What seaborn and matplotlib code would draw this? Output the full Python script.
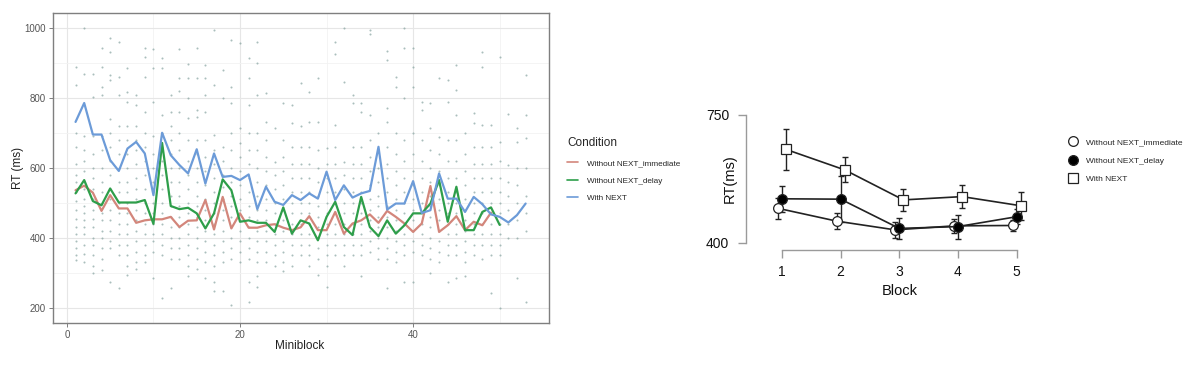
import matplotlib

matplotlib.use("Agg")
import matplotlib.pyplot as plt
import numpy as np
import pandas as pd
import seaborn as sns
from matplotlib.lines import Line2D

sns.set_theme(style="white")
plt.rcParams["font.family"] = ["Liberation Sans", "DejaVu Sans"]

# --- datos: panel izquierdo (medias por miniblock) ---------------------------
conditions = ["Without NEXT_immediate", "Without NEXT_delay", "With NEXT"]
rt_immediate = [536, 549, 529, 477, 522, 484, 484, 443, 450, 453, 453, 460, 431,
                449, 450, 508, 424, 517, 427, 470, 429, 429, 436, 439, 429, 422,
                430, 462, 422, 422, 474, 412, 441, 450, 467, 443, 477, 460, 441,
                417, 441, 548, 417, 436, 462, 422, 446, 436, 472]
rt_delay = [527, 565, 505, 493, 541, 501, 501, 501, 508, 440, 671, 491, 482,
            486, 470, 427, 470, 567, 536, 446, 450, 443, 443, 417, 487, 412,
            450, 441, 393, 460, 503, 431, 408, 517, 431, 405, 450, 412, 436,
            470, 470, 498, 565, 446, 546, 422, 422, 474, 487, 437]
rt_next = [731, 785, 695, 695, 622, 591, 655, 674, 641, 522, 700, 636, 608,
           584, 653, 555, 641, 574, 577, 565, 581, 482, 546, 503, 494, 522,
           508, 527, 512, 589, 508, 550, 515, 527, 534, 660, 481, 498, 498,
           562, 471, 479, 584, 512, 512, 474, 517, 496, 467, 460, 444, 465, 498]

# ensayos individuales (puntos) por miniblock, estimados a ojo
dot_rt = [
    [889, 836, 700, 660, 610, 580, 560, 530, 505, 480, 455, 430, 410, 390, 370, 350, 337],
    [1000, 867, 690, 650, 620, 590, 560, 540, 510, 490, 470, 450, 430, 410, 380, 355, 332],
    [867, 803, 690, 640, 600, 570, 540, 510, 480, 455, 430, 400, 380, 350, 320, 299],
    [943, 889, 832, 808, 690, 650, 600, 560, 530, 500, 470, 450, 420, 400, 370, 340, 308],
    [970, 932, 865, 851, 740, 700, 660, 620, 580, 540, 510, 480, 450, 420, 390, 370, 275],
    [960, 860, 808, 720, 680, 640, 600, 560, 530, 500, 470, 440, 410, 380, 350, 258],
    [884, 817, 789, 720, 680, 640, 600, 560, 530, 500, 470, 440, 410, 380, 350, 320, 294],
    [808, 779, 720, 680, 650, 610, 570, 540, 510, 480, 450, 420, 390, 360, 330, 310],
    [943, 917, 860, 760, 700, 660, 620, 580, 540, 500, 470, 440, 410, 380, 350, 330],
    [938, 884, 789, 690, 640, 600, 560, 530, 500, 470, 440, 410, 390, 360, 285],
    [914, 884, 751, 700, 660, 620, 580, 540, 500, 470, 440, 410, 380, 350, 228],
    [808, 760, 720, 680, 640, 600, 560, 520, 490, 460, 430, 400, 370, 340, 256],
    [938, 855, 820, 760, 700, 650, 600, 560, 520, 490, 460, 430, 400, 370, 340],
    [895, 855, 798, 741, 680, 620, 580, 540, 500, 470, 440, 410, 380, 350, 320, 290],
    [941, 857, 765, 746, 680, 640, 600, 560, 520, 490, 460, 430, 400, 370, 340, 310],
    [893, 855, 808, 760, 680, 630, 590, 550, 510, 480, 450, 420, 390, 360, 330, 285],
    [993, 836, 694, 650, 610, 570, 530, 500, 470, 440, 410, 380, 350, 320, 275, 247],
    [879, 798, 660, 620, 580, 545, 510, 480, 450, 420, 390, 360, 330, 247],
    [965, 832, 784, 700, 650, 600, 560, 520, 490, 460, 430, 400, 370, 340, 209],
    [955, 713, 670, 630, 590, 550, 510, 480, 450, 420, 390, 360, 330],
    [914, 855, 779, 700, 650, 610, 570, 530, 490, 460, 430, 400, 370, 340, 275, 218],
    [958, 898, 808, 700, 650, 600, 560, 520, 480, 450, 420, 390, 360, 330, 290, 261],
    [813, 732, 680, 630, 590, 550, 510, 480, 450, 420, 390, 360, 330],
    [713, 618, 580, 540, 500, 470, 440, 410, 380, 350, 320],
    [784, 680, 630, 590, 550, 510, 480, 450, 420, 390, 360, 330, 304],
    [779, 727, 660, 610, 570, 530, 500, 470, 440, 410, 380, 350, 320],
    [841, 718, 660, 610, 570, 530, 500, 470, 440, 410, 380, 350],
    [817, 732, 660, 610, 570, 530, 500, 470, 440, 410, 380, 350, 320],
    [855, 732, 650, 600, 560, 520, 490, 460, 430, 400, 370, 340, 294],
    [656, 610, 570, 530, 500, 470, 440, 410, 380, 350, 320, 261],
    [960, 924, 722, 660, 610, 570, 530, 500, 470, 440, 410, 380, 350],
    [998, 846, 618, 580, 540, 500, 470, 440, 410, 380, 350, 320],
    [808, 784, 660, 610, 570, 530, 500, 470, 440, 410, 380, 350],
    [784, 760, 660, 610, 570, 530, 500, 470, 440, 410, 380, 350, 290],
    [993, 983, 751, 680, 630, 590, 550, 510, 480, 450, 420, 390, 360],
    [700, 650, 600, 560, 520, 490, 460, 430, 400, 370, 340],
    [933, 908, 770, 732, 660, 610, 570, 530, 490, 460, 430, 400, 370, 340, 256],
    [860, 832, 699, 640, 590, 550, 510, 480, 450, 420, 390, 360, 330],
    [998, 941, 798, 680, 620, 570, 530, 500, 470, 440, 410, 380, 350, 275],
    [941, 889, 832, 699, 640, 590, 550, 510, 480, 450, 420, 390, 360, 275],
    [789, 765, 680, 620, 570, 530, 500, 470, 440, 410, 380, 350],
    [784, 713, 650, 600, 560, 520, 490, 460, 430, 400, 370, 340, 299],
    [855, 689, 640, 590, 550, 510, 480, 450, 420, 390, 360, 330],
    [850, 789, 680, 620, 570, 530, 500, 470, 440, 410, 380, 350, 275],
    [893, 822, 751, 680, 620, 570, 530, 500, 470, 440, 410, 380, 350, 285],
    [699, 640, 590, 550, 510, 480, 450, 420, 390, 360, 330, 290],
    [756, 727, 660, 610, 570, 530, 500, 470, 440, 410, 380, 350],
    [930, 889, 722, 660, 610, 570, 530, 500, 470, 440, 410, 380, 340],
    [722, 660, 610, 570, 530, 500, 470, 440, 410, 380, 350, 242],
    [917, 675, 620, 570, 530, 500, 470, 440, 410, 380, 350, 201],
    [753, 608, 560, 520, 480, 440, 400],
    [713, 675, 600, 550, 500, 450, 400, 285],
    [865, 751, 684, 600, 520, 470, 420, 218],
]

# --- datos: panel derecho (medias por bloque y error estándar) ---------------
blocks = [1, 2, 3, 4, 5]
block_mean = {
    "Without NEXT_immediate": [494, 459, 435, 446, 447],
    "Without NEXT_delay": [520, 519, 439, 444, 471],
    "With NEXT": [655, 599, 517, 526, 501],
}
block_se = {
    "Without NEXT_immediate": [29, 22, 21, 20, 16],
    "Without NEXT_delay": [36, 63, 28, 33, 20],
    "With NEXT": [55, 34, 31, 32, 38],
}

palette = {"Without NEXT_immediate": "#D3867B",
           "Without NEXT_delay": "#2E9E4A",
           "With NEXT": "#6C9BD8"}

# --- tablas largas para seaborn ---------------------------------------------
lineas = pd.concat([
    pd.DataFrame({"Miniblock": np.arange(1, len(v) + 1), "RT": v, "Condition": c})
    for c, v in zip(conditions, [rt_immediate, rt_delay, rt_next])
], ignore_index=True)

puntos = pd.DataFrame(
    [(i + 1, rt) for i, col in enumerate(dot_rt) for rt in col],
    columns=["Miniblock", "RT"],
)

fig = plt.figure(figsize=(12, 3.65), dpi=100)

# --- panel izquierdo ---------------------------------------------------------
ax1 = fig.add_axes([0.0442, 0.1151, 0.4133, 0.8493])
sns.scatterplot(data=puntos, x="Miniblock", y="RT", ax=ax1, s=2.2,
                color="#86a3a0", alpha=0.7, linewidth=0, legend=False)
sns.lineplot(data=lineas, x="Miniblock", y="RT", hue="Condition",
             hue_order=conditions, palette=palette, ax=ax1, linewidth=1.6,
             legend=False)
ax1.set_xlim(-1.6, 55.7)
ax1.set_ylim(157, 1042)
ax1.set_xticks([0, 20, 40])
ax1.set_yticks([200, 400, 600, 800, 1000])
ax1.set_xticks([10, 30, 50], minor=True)
ax1.set_yticks([300, 500, 700, 900], minor=True)
ax1.grid(True, which="major", color="#E6E6E6", linewidth=0.8)
ax1.grid(True, which="minor", color="#F2F2F2", linewidth=0.6)
ax1.set_axisbelow(True)
for s in ax1.spines.values():
    s.set_color("#7f7f7f")
    s.set_linewidth(1.0)
ax1.tick_params(axis="both", which="major", length=3, width=0.7,
                color="#7f7f7f", labelsize=7, labelcolor="#555555", pad=2,
                bottom=True, left=True)
ax1.tick_params(axis="both", which="minor", length=0)
ax1.set_xlabel("Miniblock", fontsize=8.5, color="#222222")
ax1.set_ylabel("RT (ms)", fontsize=8.5, color="#222222")
ax1.xaxis.set_label_coords(0.498, -0.055)
ax1.yaxis.set_label_coords(-0.058, 0.5)

handles1 = [Line2D([], [], color=palette[c], linewidth=1.2) for c in conditions]
leg1 = fig.legend(handles1, conditions, title="Condition", loc="upper left",
                  bbox_to_anchor=(560 / 1200, 1 - 130 / 365), frameon=False,
                  fontsize=5.9, title_fontsize=8.5, handlelength=1.3,
                  handletextpad=1.1, labelspacing=1.2)
leg1._legend_box.align = "left"

# --- panel derecho -----------------------------------------------------------
ax2 = fig.add_axes([0.6217, 0.3151, 0.2475, 0.3907])
marcadores = {"Without NEXT_immediate": ("o", "white"),
              "Without NEXT_delay": ("o", "black"),
              "With NEXT": ("s", "white")}
desplaz = {"Without NEXT_immediate": -0.07, "Without NEXT_delay": 0.0,
           "With NEXT": 0.07}
handles2 = []
for c in conditions:
    xs = np.array(blocks) + desplaz[c]
    ax2.errorbar(xs, block_mean[c], yerr=block_se[c], fmt="none",
                 ecolor="#222222", elinewidth=1.0, capsize=2, capthick=1.0,
                 zorder=2)
    mk, fc = marcadores[c]
    sns.lineplot(x=xs, y=block_mean[c], ax=ax2, color="#222222",
                 linewidth=1.2, marker=mk, markersize=7 if mk == "o" else 6.5,
                 markerfacecolor=fc, markeredgecolor="#222222",
                 markeredgewidth=0.9, zorder=3)
    handles2.append(Line2D([], [], linestyle="none", marker=mk, markersize=7,
                           markerfacecolor=fc, markeredgecolor="#222222",
                           markeredgewidth=0.9))

ax2.set_xlim(0.387, 5.45)
ax2.set_ylim(380, 770)
ax2.set_xticks(blocks)
ax2.set_yticks([400, 750])
for side in ["top", "right"]:
    ax2.spines[side].set_visible(False)
ax2.spines["left"].set_bounds(400, 750)
ax2.spines["bottom"].set_bounds(1, 5)
for side in ["left", "bottom"]:
    ax2.spines[side].set_color("#9a9a9a")
    ax2.spines[side].set_linewidth(1.0)
ax2.tick_params(axis="both", length=6, width=1.0, color="#9a9a9a",
                labelsize=10, labelcolor="#111111", direction="out",
                bottom=True, left=True)
ax2.tick_params(axis="x", pad=5)
ax2.tick_params(axis="y", pad=6)
ax2.set_xlabel("Block", fontsize=10.5, color="#111111")
ax2.set_ylabel("RT(ms)", fontsize=10.5, color="#111111")
ax2.xaxis.set_label_coords(0.518, -0.24)
ax2.yaxis.set_label_coords(-0.03, 0.5)

fig.legend(handles2, conditions, loc="upper left",
           bbox_to_anchor=(1060 / 1200, 1 - 131 / 365), frameon=False,
           fontsize=6.0, handletextpad=1.0, labelspacing=1.25,
           handlelength=1.2)

fig.savefig("out.png", dpi=100)
